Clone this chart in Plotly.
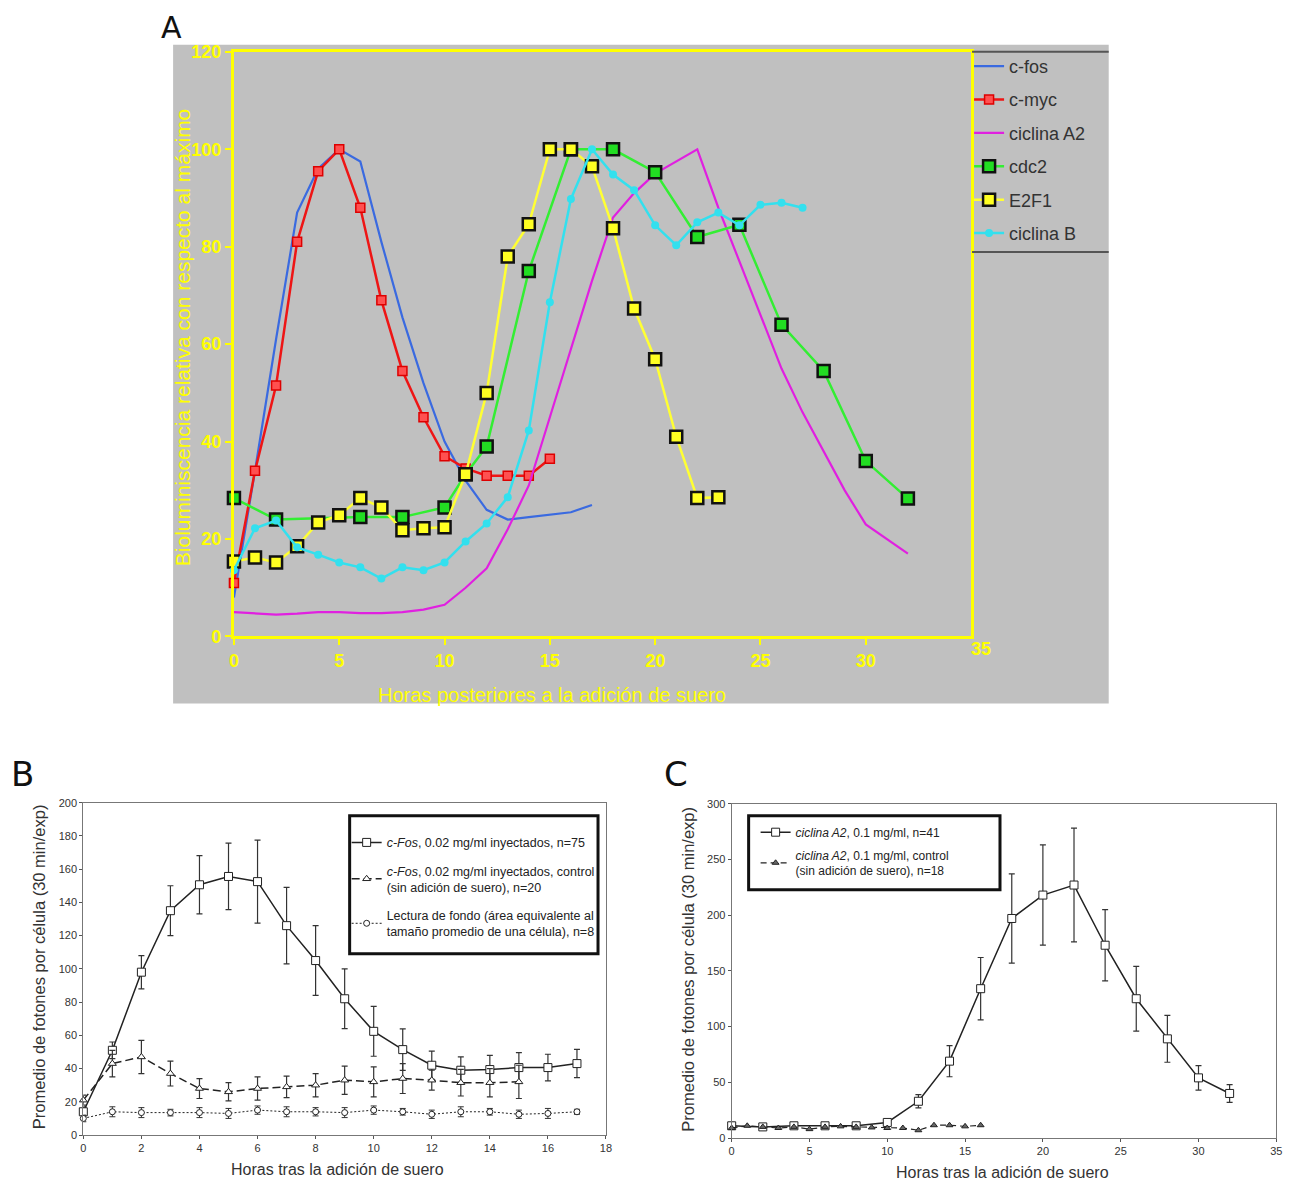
import plotly.graph_objects as go

W, H = 1292, 1183
# map target-picture pixels to layout fractions (compensates for page offset/scale seen in render)
def px(x): return ((x - 11.5) / 0.994) / W
def py(y): return 1 - ((y - 18.2) / 0.982) / H

# ---------------- Panel A data ----------------
hA_fos = list(range(0, 18))
cfos = [8, 34, 61, 87, 96, 100, 97.5, 81, 65.5, 52, 40, 32, 26, 24, 24.5, 25, 25.5, 27]

hA_myc = list(range(0, 16))
cmyc = [11, 34, 51.5, 81, 95.5, 100, 88, 69, 54.5, 45, 37, 34.5, 33, 33, 33, 36.5]

hA_a2 = list(range(0, 33))
ciclinaA2 = [5, 4.8, 4.5, 4.7, 5, 5, 4.8, 4.8, 5, 5.5, 6.5, 10, 14, 22, 31, 45, 59, 73, 86,
             91, 95, 97.5, 100, 88, 77, 66, 55, 46, 38, 30, 23, 20, 17]

hA_cdc2 = [0, 2, 6, 8, 10, 11, 12, 14, 16, 18, 20, 22, 24, 26, 28, 30, 32]
cdc2 = [28.4, 24, 24.5, 24.5, 26.5, 33.3, 39, 75, 100, 100, 95.3, 82, 84.5, 64, 54.5, 36, 28.3]

hA_e2f1 = list(range(0, 24))
e2f1 = [15.4, 16.2, 15.2, 18.5, 23.4, 24.9, 28.4, 26.5, 21.8, 22.2, 22.4, 33.3, 50, 78, 84.6,
        100, 100, 96.5, 83.8, 67.3, 56.9, 41, 28.4, 28.6]

hA_b = list(range(0, 28))
ciclinaB = [13.6, 22.2, 23.8, 18.3, 16.8, 15.2, 14.2, 11.9, 14.2, 13.6, 15.2, 19.5, 23.2, 28.6,
            42.3, 68.6, 89.8, 100, 94.8, 91.6, 84.4, 80.3, 85, 87, 84.4, 88.6, 89, 88]

# ---------------- Panel B data ----------------
hB = list(range(0, 18))
fos_inj = [14, 51, 98, 135, 150.6, 155.6, 152.5, 126, 105, 82, 62.4, 51.4, 42, 39, 39.4, 40.6, 40.6, 43]
fos_inj_err = [3, 5, 10, 15, 17.5, 20, 25, 23, 21, 18, 15, 12.5, 8.5, 8, 8.5, 9, 8, 8.5]

hB_ctrl = list(range(0, 16))
fos_ctrl = [21, 43, 47, 37, 28, 26, 28, 29, 30, 33, 32, 34, 33, 31.5, 31.5, 32]
fos_ctrl_err = [3, 8, 10, 7.5, 6, 5.5, 7, 6.5, 7, 8.5, 9, 9, 6, 8, 8.5, 10]

hB_bg = list(range(0, 18))
fondo = [10, 14, 13.5, 13.5, 13.5, 13, 15, 14, 14, 13.5, 15, 14, 12.5, 14, 14, 12.5, 13, 14]
fondo_err = [2, 3, 3, 2, 3, 3, 2.5, 3, 2.5, 3, 2.5, 2, 2.5, 3, 2, 2.5, 3, 1.5]

# ---------------- Panel C data ----------------
hC = [0, 2, 4, 6, 8, 10, 12, 14, 16, 18, 20, 22, 24, 26, 28, 30, 32]
a2_inj = [11, 10, 11, 11, 11, 14, 33, 69, 134, 197, 218, 227, 173, 125, 89, 54, 40]
a2_inj_err = [2, 2, 2, 2, 2, 2, 6, 14, 28, 40, 45, 51, 32, 29, 21, 11, 8]

hC_ctrl = list(range(0, 17))
a2_ctrl = [9, 11, 10, 9, 10, 8, 10, 10.5, 10, 9.5, 9, 9, 7, 11.5, 11.5, 10.5, 11.5]

# ---------------- Figure ----------------
fig = go.Figure()

YEL = "#ffff00"
GREY = "#c0c0c0"

# Panel A traces
fig.add_trace(go.Scatter(x=hA_fos, y=cfos, mode="lines", name="c-fos",
                         line=dict(color="#3a6ae0", width=2.2), xaxis="x", yaxis="y",
                         legend="legend", legendgroup="a1", cliponaxis=False))
fig.add_trace(go.Scatter(x=hA_myc, y=cmyc, mode="lines+markers", name="c-myc",
                         line=dict(color="#ee1515", width=2.5),
                         marker=dict(symbol="square", size=9, color="#ff5050",
                                     line=dict(color="#dd0000", width=1.5)),
                         xaxis="x", yaxis="y", legend="legend", legendgroup="a2", cliponaxis=False))
fig.add_trace(go.Scatter(x=hA_a2, y=ciclinaA2, mode="lines", name="ciclina A2",
                         line=dict(color="#e020e0", width=2.2), xaxis="x", yaxis="y",
                         legend="legend", legendgroup="a3", cliponaxis=False))
fig.add_trace(go.Scatter(x=hA_cdc2, y=cdc2, mode="lines+markers", name="cdc2",
                         line=dict(color="#33ee33", width=2.5),
                         marker=dict(symbol="square", size=12, color="#22dd22",
                                     line=dict(color="#111111", width=2.5)),
                         xaxis="x", yaxis="y", legend="legend", legendgroup="a4", cliponaxis=False))
fig.add_trace(go.Scatter(x=hA_e2f1, y=e2f1, mode="lines+markers", name="E2F1",
                         line=dict(color="#ffff33", width=2.5),
                         marker=dict(symbol="square", size=12, color="#ffff22",
                                     line=dict(color="#111111", width=2.5)),
                         xaxis="x", yaxis="y", legend="legend", legendgroup="a5", cliponaxis=False))
fig.add_trace(go.Scatter(x=hA_b, y=ciclinaB, mode="lines+markers", name="ciclina B",
                         line=dict(color="#33e0ee", width=2.5),
                         marker=dict(symbol="circle", size=8, color="#33e0ee"),
                         xaxis="x", yaxis="y", legend="legend", legendgroup="a6", cliponaxis=False))

# Panel B traces
fig.add_trace(go.Scatter(x=hB, y=fos_inj, mode="lines+markers",
                         name="<i>c-Fos</i>, 0.02 mg/ml inyectados, n=75",
                         line=dict(color="#222", width=1.5),
                         marker=dict(symbol="square", size=8, color="white", line=dict(color="#222", width=1)),
                         error_y=dict(type="data", array=fos_inj_err, visible=True, width=3,
                                      thickness=1.2, color="#333"),
                         xaxis="x2", yaxis="y2", legend="legend2", legendgroup="b1", cliponaxis=False))
fig.add_trace(go.Scatter(x=hB_ctrl, y=fos_ctrl, mode="lines+markers",
                         name="<i>c-Fos</i>, 0.02 mg/ml inyectados, control<br>(sin adición de suero), n=20",
                         line=dict(color="#222", width=1.5, dash="8px,4px"),
                         marker=dict(symbol="triangle-up", size=7, color="white", line=dict(color="#222", width=1)),
                         error_y=dict(type="data", array=fos_ctrl_err, visible=True, width=3,
                                      thickness=1.2, color="#333"),
                         xaxis="x2", yaxis="y2", legend="legend2", legendgroup="b2", cliponaxis=False))
fig.add_trace(go.Scatter(x=hB_bg, y=fondo, mode="lines+markers",
                         name="Lectura de fondo (área equivalente al<br>tamaño promedio de una célula), n=8",
                         line=dict(color="#222", width=1, dash="2px,2px"),
                         marker=dict(symbol="circle", size=6, color="white", line=dict(color="#222", width=1)),
                         error_y=dict(type="data", array=fondo_err, visible=True, width=3,
                                      thickness=1, color="#333"),
                         xaxis="x2", yaxis="y2", legend="legend2", legendgroup="b3", cliponaxis=False))

# Panel C traces
fig.add_trace(go.Scatter(x=hC, y=a2_inj, mode="lines+markers",
                         name="<i>ciclina A2</i>, 0.1 mg/ml, n=41",
                         line=dict(color="#222", width=1.5),
                         marker=dict(symbol="square", size=8, color="white", line=dict(color="#222", width=1)),
                         error_y=dict(type="data", array=a2_inj_err, visible=True, width=3,
                                      thickness=1.2, color="#333"),
                         xaxis="x3", yaxis="y3", legend="legend3", legendgroup="c1", cliponaxis=False))
fig.add_trace(go.Scatter(x=hC_ctrl, y=a2_ctrl, mode="lines+markers",
                         name="<i>ciclina A2</i>, 0.1 mg/ml, control<br>(sin adición de suero), n=18",
                         line=dict(color="#222", width=1.2, dash="6px,4px"),
                         marker=dict(symbol="triangle-up", size=6, color="#666", line=dict(color="#222", width=1)),
                         xaxis="x3", yaxis="y3", legend="legend3", legendgroup="c2", cliponaxis=False))

axA = dict(showgrid=False, zeroline=False, showline=True, linecolor=YEL, linewidth=3, mirror=True,
           ticks="outside", tickcolor=YEL, ticklen=6, tickwidth=2,
           tickfont=dict(family="Liberation Sans, Arial", size=18, color=YEL, weight="bold"))
axBC = dict(showgrid=False, zeroline=False, showline=True, linecolor="#777", linewidth=1, mirror=True,
            ticks="outside", tickcolor="#555", ticklen=3, tickwidth=1,
            tickfont=dict(family="Liberation Sans, Arial", size=11, color="#333"))

ann = []
def A(text, x, y, size, color, angle=0, xanchor="center", family="Liberation Sans, Arial", weight="normal"):
    ann.append(dict(text=text, x=px(x), y=py(y), xref="paper", yref="paper", showarrow=False,
                    xanchor=xanchor, yanchor="middle", textangle=angle,
                    font=dict(size=size, color=color, family=family, weight=weight)))

A("Horas posteriores a la adición de suero", 552, 694, 20, YEL)
A("Bioluminiscencia relativa con respecto al máximo", 181, 337, 21, YEL, angle=-90)
A("35", 982, 648, 18, YEL, weight="bold")
A("Horas tras la adición de suero", 337, 1168, 16, "#333")
A("Promedio de fotones por célula (30 min/exp)", 37, 966, 16.5, "#333", angle=-90)
A("Horas tras la adición de suero", 1004, 1171, 16, "#333")
A("Promedio de fotones por célula (30 min/exp)", 688, 968, 16.5, "#333", angle=-90)
A("A", 158, 28, 30, "#111", xanchor="left", family="DejaVu Sans")
A("B", 7, 773, 34, "#111", xanchor="left", family="DejaVu Sans")
A("C", 662, 773, 34, "#111", xanchor="left", family="DejaVu Sans")

shapes = [
    dict(type="rect", xref="paper", yref="paper", x0=px(172), x1=px(1110), y0=py(703), y1=py(45),
         fillcolor=GREY, line=dict(width=0), layer="below"),
    dict(type="line", xref="paper", yref="paper", x0=px(973), x1=px(1110), y0=py(52), y1=py(52),
         line=dict(color="#555", width=2)),
    dict(type="line", xref="paper", yref="paper", x0=px(973), x1=px(1110), y0=py(252), y1=py(252),
         line=dict(color="#555", width=2)),
    # legend frames of panels B and C
    dict(type="rect", xref="paper", yref="paper", x0=px(349), x1=px(598), y0=py(953), y1=py(815),
         fillcolor="white", line=dict(color="#111", width=3), layer="above"),
    dict(type="rect", xref="paper", yref="paper", x0=px(749), x1=px(1001), y0=py(889), y1=py(815),
         fillcolor="white", line=dict(color="#111", width=3), layer="above"),
]

fig.update_layout(
    width=W, height=H, margin=dict(l=0, r=0, t=0, b=0),
    paper_bgcolor="white", plot_bgcolor="rgba(0,0,0,0)",
    font=dict(family="Liberation Sans, Arial"),
    xaxis=dict(axA, domain=[px(233), px(972)], range=[0, 35], tickvals=[0, 5, 10, 15, 20, 25, 30],
               anchor="y"),
    yaxis=dict(axA, domain=[py(636), py(52)], range=[0, 120], tickvals=[0, 20, 40, 60, 80, 100, 120],
               anchor="x"),
    xaxis2=dict(axBC, domain=[px(82), px(606)], range=[0, 18], dtick=2, anchor="y2"),
    yaxis2=dict(axBC, domain=[py(1134), py(802)], range=[0, 200], dtick=20, anchor="x2"),
    xaxis3=dict(axBC, domain=[px(732), px(1278)], range=[0, 35], dtick=5, anchor="y3"),
    yaxis3=dict(axBC, domain=[py(1137), py(803)], range=[0, 300], dtick=50, anchor="x3"),
    legend=dict(x=px(970), y=py(48), xanchor="left", yanchor="top", bgcolor="rgba(0,0,0,0)",
                font=dict(size=18, color="#333"), itemwidth=30, tracegroupgap=7),
    legend2=dict(x=px(346), y=py(818), xanchor="left", yanchor="top", bgcolor="rgba(0,0,0,0)",
                 borderwidth=0, font=dict(size=12.5, color="#222"),
                 itemwidth=30, tracegroupgap=9,
                 title=dict(text=" ", font=dict(size=7))),
    legend3=dict(x=px(756), y=py(817), xanchor="left", yanchor="top", bgcolor="rgba(0,0,0,0)",
                 borderwidth=0, font=dict(size=12, color="#222"),
                 itemwidth=30, tracegroupgap=4),
    annotations=ann, shapes=shapes, showlegend=True,
)

fig.write_html("out.html")
